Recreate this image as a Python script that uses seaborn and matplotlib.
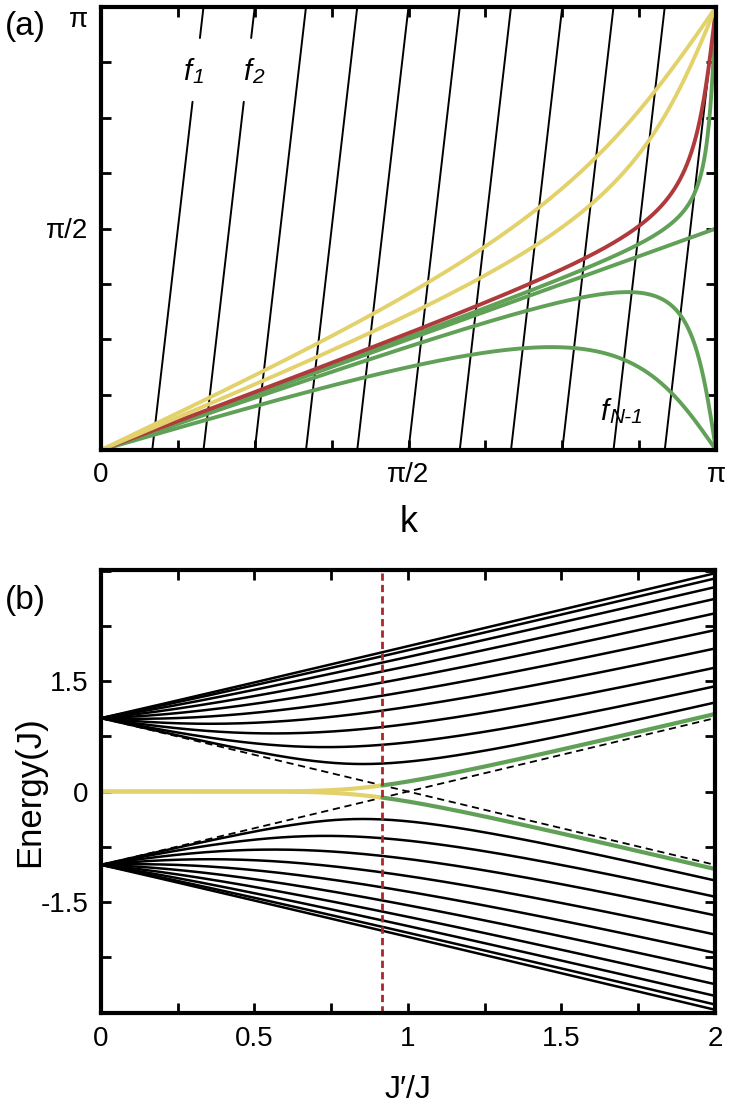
import numpy as np
import pandas as pd
import matplotlib
matplotlib.use("Agg")
import matplotlib.pyplot as plt
from matplotlib.ticker import MultipleLocator
import seaborn as sns

# ---------------- values ----------------
N_CELLS = 11                                   # unit cells -> f-line slope N+1 = 12
F_LINE_INDEX = list(range(1, 12))              # f_1 ... f_11
F_LABEL_GAP = [0.786, 0.930]                   # phase range (units of pi) hidden behind f1/f2 labels
CURVE_JPRIME = [0.5, 0.7, 11 / 12, 0.966, 1.0, 1 / 0.9, 1.5]   # J'/J of each phase curve in (a)
CURVE_GROUP = ["edge", "edge", "critical", "bulk", "bulk", "bulk", "bulk"]
GROUP_COLORS = {"edge": "#E3D26C", "critical": "#B03A3B", "bulk": "#61A057"}

F_LABEL_MAIN = ["f", "f", "f"]
F_LABEL_SUB = ["1", "2", "N-1"]
F_LABEL_K = [0.140, 0.237, 0.818]             # positions of the "f", units of pi
F_LABEL_PHI = [0.853, 0.853, 0.086]

K_TICKS = [0, np.pi / 2, np.pi]
K_TICK_LABELS = ["0", "π/2", "π"]
PHI_TICKS = [np.pi / 2, np.pi]
PHI_TICK_LABELS = ["π/2", "π"]

JP_RANGE = [0.0, 2.0]
JP_TICKS = [0, 0.5, 1, 1.5, 2]
JP_TICK_LABELS = ["0", "0.5", "1", "1.5", "2"]
E_TICKS = [-1.5, 0, 1.5]
E_TICK_LABELS = ["-1.5", "0", "1.5"]
E_LIMITS = [-3.02, 3.02]
J_CRITICAL = N_CELLS / (N_CELLS + 1)

# ---------------- style ----------------
sns.set_theme(style="ticks")
plt.rcParams["font.family"] = ["Liberation Sans", "DejaVu Sans"]
plt.rcParams["axes.unicode_minus"] = False
for key in ("text.color", "axes.labelcolor", "xtick.color", "ytick.color",
            "xtick.labelcolor", "ytick.labelcolor", "axes.edgecolor"):
    plt.rcParams[key] = "black"

fig = plt.figure(figsize=(7.3, 11.2), dpi=100)
ax_a = fig.add_axes([101 / 730, 1 - 450 / 1120, 615 / 730, 443 / 1120])
ax_b = fig.add_axes([101 / 730, 1 - 1013 / 1120, 614 / 730, 443 / 1120])

# ---------------- panel (a) ----------------
slope = N_CELLS + 1
f_rows = []
for n in F_LINE_INDEX:
    k0, k1 = n * np.pi / slope, (n + 1) * np.pi / slope
    if n in (1, 2):
        g0 = (F_LABEL_GAP[0] * np.pi + n * np.pi) / slope
        g1 = (F_LABEL_GAP[1] * np.pi + n * np.pi) / slope
        segs = [(k0, g0), (g1, k1)]
    else:
        segs = [(k0, k1)]
    for si, (a, b) in enumerate(segs):
        for kk in (a, b):
            f_rows.append({"k": kk, "y": slope * kk - n * np.pi, "seg": f"{n}-{si}"})
df_f = pd.DataFrame(f_rows)
sns.lineplot(data=df_f, x="k", y="y", units="seg", estimator=None, color="black",
             lw=1.4, sort=False, legend=False, ax=ax_a, zorder=2)

k_grid = np.linspace(0, np.pi, 3001)
c_rows = []
for i, (jp, grp) in enumerate(zip(CURVE_JPRIME, CURVE_GROUP)):
    phi = np.arctan2(np.sin(k_grid), jp + np.cos(k_grid))
    c_rows.append(pd.DataFrame({"k": k_grid, "phi": phi, "curve": f"c{i}", "group": grp}))
df_c = pd.concat(c_rows, ignore_index=True)
order = [f"c{i}" for i in [3, 4, 5, 6, 2, 1, 0]]
pal = {f"c{i}": GROUP_COLORS[g] for i, g in enumerate(CURVE_GROUP)}
sns.lineplot(data=df_c, x="k", y="phi", hue="curve", hue_order=order, palette=pal,
             estimator=None, sort=False, lw=2.8, legend=False, ax=ax_a, zorder=3)

for main, sub, kx, py in zip(F_LABEL_MAIN, F_LABEL_SUB, F_LABEL_K, F_LABEL_PHI):
    ax_a.annotate(main, (kx * np.pi, py * np.pi), ha="center", va="center",
                  fontsize=21, fontstyle="italic", color="black", zorder=5)
    ax_a.annotate(sub, (kx * np.pi, py * np.pi), xytext=(4, -4), textcoords="offset points",
                  ha="left", va="center", fontsize=15, fontstyle="italic", color="black", zorder=5)

ax_a.set_xlim(0, np.pi)
ax_a.set_ylim(0, np.pi)
ax_a.set_xticks(K_TICKS, K_TICK_LABELS)
ax_a.set_yticks(PHI_TICKS, PHI_TICK_LABELS)
ax_a.xaxis.set_minor_locator(MultipleLocator(np.pi / 8))
ax_a.yaxis.set_minor_locator(MultipleLocator(np.pi / 8))
ax_a.set_xlabel("k", fontsize=26)
ax_a.set_ylabel("")
ax_a.xaxis.set_label_coords(0.5, -0.125)

# ---------------- panel (b) ----------------
jp_grid = np.union1d(np.linspace(JP_RANGE[0], JP_RANGE[1], 801), [J_CRITICAL])
n_sites = 2 * N_CELLS
bulk_rows, edge_rows = [], []
for jp in jp_grid:
    hop = np.where(np.arange(n_sites - 1) % 2 == 0, jp, 1.0)
    H = np.diag(hop, 1) + np.diag(hop, -1)
    ev = np.linalg.eigvalsh(H)
    for lv, e in enumerate(ev):
        if lv in (N_CELLS - 1, N_CELLS):
            side = "lo" if lv == N_CELLS - 1 else "hi"
            if jp <= J_CRITICAL:
                edge_rows.append({"jp": jp, "E": e, "seg": side + "-y", "phase": "edge"})
            if jp >= J_CRITICAL:
                edge_rows.append({"jp": jp, "E": e, "seg": side + "-g", "phase": "bulk"})
        else:
            bulk_rows.append({"jp": jp, "E": e, "level": lv})
df_bulk = pd.DataFrame(bulk_rows)
df_edge = pd.DataFrame(edge_rows)

sns.lineplot(data=df_bulk, x="jp", y="E", units="level", estimator=None, color="black",
             lw=1.8, sort=False, legend=False, ax=ax_b, zorder=2)

df_dash = pd.DataFrame({"jp": JP_RANGE * 2,
                        "E": [1 - JP_RANGE[0], 1 - JP_RANGE[1], JP_RANGE[0] - 1, JP_RANGE[1] - 1],
                        "which": ["down", "down", "up", "up"]})
sns.lineplot(data=df_dash, x="jp", y="E", units="which", estimator=None, color="black",
             lw=1.3, linestyle=(0, (4, 2.6)), sort=False, legend=False, ax=ax_b, zorder=2.5)

sns.lineplot(data=df_edge, x="jp", y="E", hue="phase", units="seg", estimator=None,
             palette={"edge": GROUP_COLORS["edge"], "bulk": GROUP_COLORS["bulk"]},
             lw=3.0, sort=False, legend=False, ax=ax_b, zorder=3)

ax_b.axvline(J_CRITICAL, color="#A8282C", lw=2.0, linestyle=(0, (2.6, 1.5)), zorder=4)

ax_b.set_xlim(*JP_RANGE)
ax_b.set_ylim(*E_LIMITS)
ax_b.set_xticks(JP_TICKS, JP_TICK_LABELS)
ax_b.set_yticks(E_TICKS, E_TICK_LABELS)
ax_b.xaxis.set_minor_locator(MultipleLocator(0.25))
ax_b.yaxis.set_minor_locator(MultipleLocator(0.75))
ax_b.set_xlabel("J\u2032/J", fontsize=23, color="black")
ax_b.set_ylabel("Energy(J)", fontsize=25, color="black")
ax_b.xaxis.set_label_coords(0.5, -0.14)
ax_b.yaxis.set_label_coords(-0.09, 0.5)

for ax in (ax_a, ax_b):
    ax.tick_params(which="both", direction="in", top=True, right=True,
                   width=2.0, length=7.5, labelsize=20, pad=9, color="black",
                   labelcolor="black")
    for s in ax.spines.values():
        s.set_linewidth(3)
        s.set_color("black")
        s.set_zorder(6)

# keep the top "π" label inside the figure
ax_a.yaxis.get_major_ticks()[-1].label1.set_verticalalignment("top")

fig.text(5 / 730, 1 - 26 / 1120, "(a)", fontsize=24, ha="left", va="center", color="black")
fig.text(5 / 730, 1 - 601 / 1120, "(b)", fontsize=24, ha="left", va="center", color="black")

fig.savefig("out.png", dpi=100)
